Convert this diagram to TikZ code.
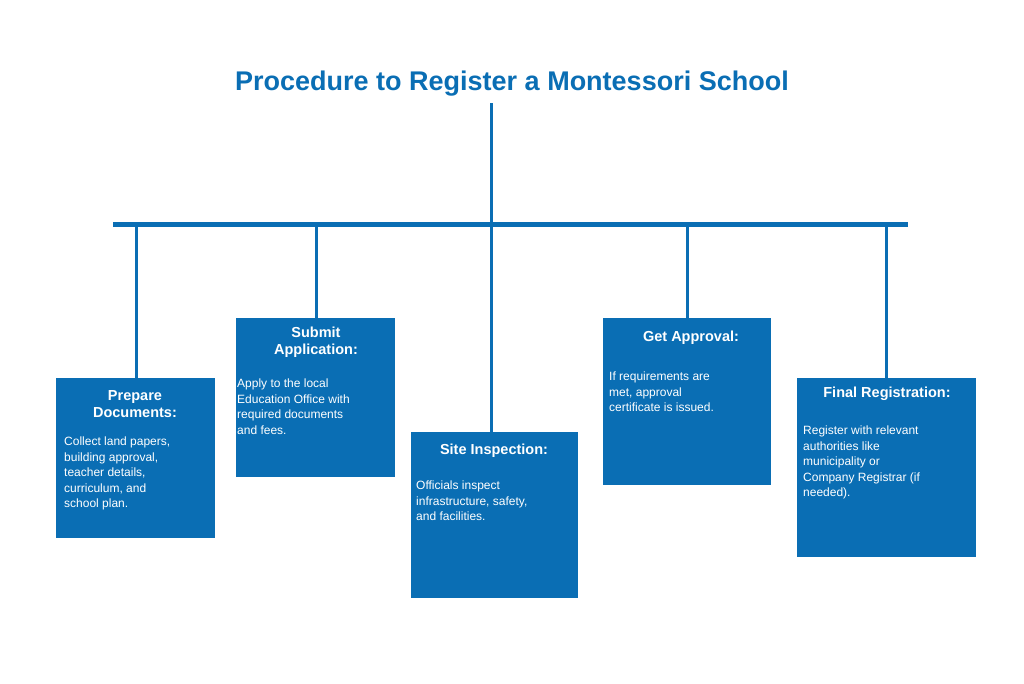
\documentclass[tikz,border=0pt]{standalone}
\usepackage{fontspec}
\setmainfont{Liberation Sans}
\begin{document}
\begin{tikzpicture}[x=1pt,y=-1pt,
  box/.style={fill=bl,draw=none},
  hd/.style={text=white,font=\bfseries\fontsize{14.5}{17}\selectfont,align=center,anchor=north,inner sep=0},
  bd/.style={text=white,font=\fontsize{12}{15.5}\selectfont,align=left,anchor=north west,inner sep=0},
  ln/.style={draw=bl,line width=3pt}]
\definecolor{bl}{HTML}{0A6EB4}
\useasboundingbox[fill=white] (0,0) rectangle (1024,683);
\node[text=bl,font=\bfseries\fontsize{27}{32}\selectfont,inner sep=0] (title) at (512,84) {Procedure to Register a Montessori School};
\coordinate (t) at (491,103);
\coordinate (bl) at (113,224); \coordinate (br) at (908,224);
\draw[draw=bl,line width=5pt] (bl) -- (br);
\node[box,minimum width=159,minimum height=160,anchor=north west,inner sep=0] (b1) at (56,378) {};
\node[box,minimum width=159,minimum height=159,anchor=north west,inner sep=0] (b2) at (236,318) {};
\node[box,minimum width=167,minimum height=166,anchor=north west,inner sep=0] (b3) at (411,432) {};
\node[box,minimum width=168,minimum height=167,anchor=north west,inner sep=0] (b4) at (603,318) {};
\node[box,minimum width=179,minimum height=179,anchor=north west,inner sep=0] (b5) at (797,378) {};
\draw[ln] (t) -- (b3.north -| t);
\draw[ln] (136,224) -- (b1.north -| 136,0);
\draw[ln] (316,224) -- (b2.north -| 316,0);
\draw[ln] (687,224) -- (b4.north -| 687,0);
\draw[ln] (886,224) -- (b5.north -| 886,0);
\node[hd] (h1) at (135,390) {Prepare\\Documents:};
\node[bd] (t1) at (64,437) {Collect land papers,\\building approval,\\teacher details,\\curriculum, and\\school plan.};
\node[hd] (h2) at (316,327) {Submit\\Application:};
\node[bd] (t2) at (237,379) {Apply to the local\\Education Office with\\required documents\\and fees.};
\node[hd] (h3) at (494,444) {Site Inspection:};
\node[bd] (t3) at (416,481) {Officials inspect\\infrastructure, safety,\\and facilities.};
\node[hd] (h4) at (691,331) {Get Approval:};
\node[bd] (t4) at (609,372) {If requirements are\\met, approval\\certificate is issued.};
\node[hd] (h5) at (887,387) {Final Registration:};
\node[bd] (t5) at (803,426) {Register with relevant\\authorities like\\municipality or\\Company Registrar (if\\needed).};
\end{tikzpicture}
\end{document}
